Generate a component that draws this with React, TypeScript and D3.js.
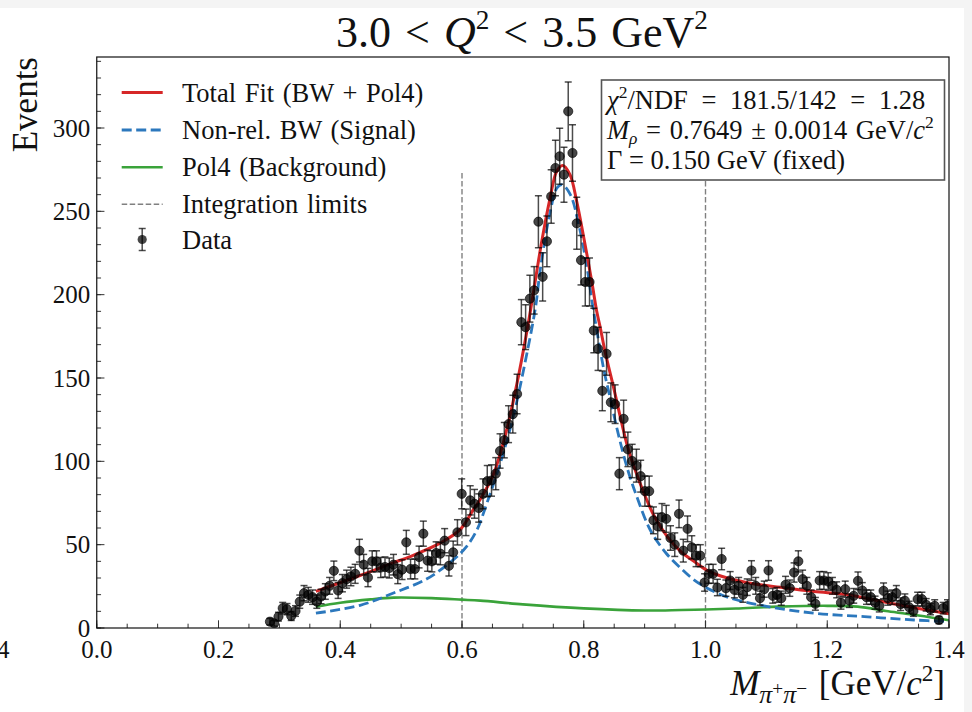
import React from 'react';
import * as d3 from 'd3';

// ---------- data ----------
const BIN_START = 0.2845;
const BIN_WIDTH = 0.007;
const counts: number[] = [
  3.8, 2.8, 6.8, 11.9, 11.3, 7.2, 10.2, 15.8, 20.9, 19.9,
  18.5, 15.8, 18.9, 21.9, 25.3, 34.3, 22.5, 26.9, 29.3, 30.9,
  32.5, 46.4, 38, 30.3, 40, 40, 36.3, 36.6, 36, 38,
  32.3, 35, 51.4, 35.4, 35.4, 42.6, 56.6, 40.4, 40, 45,
  44.6, 52.4, 37.3, 45.4, 57.4, 80.5, 63.4, 76.6, 74.5, 72,
  80.5, 88.1, 88.5, 92.6, 106.2, 112.7, 122.3, 128.3, 140.4, 183.5,
  180.5, 197.6, 202.6, 243.8, 210.7, 232, 258.9, 276, 283, 272,
  310, 285, 242.8, 220.7, 207.6, 207.6, 178.5, 167.5, 142.3, 164.5,
  135.4, 134.3, 92.6, 125.5, 107.2, 100.2, 97.4, 91.1, 82.1, 82.1,
  64.6, 61, 66.5, 65.5, 54, 50, 68.5, 46.4, 59.5, 48.4,
  43.4, 43.4, 27.3, 32.5, 32.5, 24.3, 41.4, 23.9, 28.5, 22.9,
  25.3, 19.9, 24.5, 34.5, 25.3, 17.9, 23.3, 34.5, 19.3, 19.9,
  17.9, 25.9, 23.9, 33.3, 40, 29.3, 25.3, 18.5, 14.5, 28.5,
  28.5, 27.9, 25.3, 22.9, 15.2, 23.3, 16.4, 19.3, 28.3, 22.5,
  18.5, 18.5, 15.2, 13.3, 22.3, 17.9, 18.5, 20.9, 14.3, 16.4,
  12.5, 10.2, 17.3, 17.3, 13.9, 11.3, 13.3, 4.8, 11.9, 13.3,
];

const totalFitX = [0.36, 0.4324, 0.4875, 0.5146, 0.5639, 0.5968, 0.6186, 0.6296, 0.6514, 0.6734, 0.6899, 0.7063, 0.7145, 0.7309, 0.7446, 0.7556, 0.7654, 0.7774, 0.7884, 0.7993, 0.8131, 0.8213, 0.8267, 0.8349, 0.8494, 0.8604, 0.8714, 0.8823, 0.8988, 0.9152, 0.9372, 0.959, 0.981, 1.003, 1.025, 1.0688, 1.1237, 1.1784, 1.2333, 1.2881, 1.343, 1.4];
const totalFitY = [22, 31.5, 39.2, 42.8, 50.9, 59, 71, 77, 92, 119, 146, 177.5, 195, 231.7, 257.8, 274, 277.5, 272, 256, 235.7, 208, 190, 181, 166, 143.8, 126, 109.5, 97, 81, 67.5, 54.8, 46, 40, 34.5, 31.2, 27.2, 24.4, 21.9, 20, 16, 12.2, 8.6];

const signalX = [0.36, 0.4327, 0.4875, 0.5424, 0.586, 0.6077, 0.6247, 0.641, 0.663, 0.685, 0.704, 0.7206, 0.7288, 0.745, 0.756, 0.7645, 0.778, 0.792, 0.8056, 0.814, 0.833, 0.844, 0.855, 0.8714, 0.888, 0.9097, 0.935, 0.959, 0.981, 1.003, 1.041, 1.096, 1.178, 1.261, 1.343, 1.4];
const signalY = [8.9, 13.6, 21, 29.5, 41, 49, 59, 75, 99, 128, 160, 192, 215.7, 250, 264, 266, 260, 241.7, 215.7, 195, 155, 137, 119, 96, 78, 58.5, 45, 36, 28.9, 23.9, 17.9, 13.3, 8.9, 6.8, 4.8, 3.8];

const bkgX = [0.36, 0.40, 0.45, 0.4875, 0.55, 0.60, 0.63, 0.70, 0.80, 0.90, 0.96, 1.0, 1.05, 1.12, 1.20, 1.25, 1.30, 1.35, 1.40];
const bkgY = [12.8, 15.2, 17.2, 18.2, 17.9, 17.0, 16.4, 14.2, 11.8, 10.5, 10.8, 11.1, 11.7, 12.8, 13.3, 12.8, 10.0, 7.5, 4.6];

const integrationLimits = [0.6, 1.0];
const limitTop = 273;

const xMajorTicks = [0.0, 0.2, 0.4, 0.6, 0.8, 1.0, 1.2, 1.4];
const xMinorTicks = d3.range(0, 29).map((i) => i * 0.05);
const yMajorTicks = [0, 50, 100, 150, 200, 250, 300];
const yMinorTicks = d3.range(0, 35).map((i) => i * 10);

const legendLabels = [
  'Total Fit (BW + Pol4)',
  'Non-rel. BW (Signal)',
  'Pol4 (Background)',
  'Integration limits',
  'Data',
];

// ---------- style ----------
const RED = '#d62728';
const BLUE = '#2c78bd';
const GREEN = '#3aa33a';
const FONT = '"Liberation Serif", "Times New Roman", serif';

type Piece = { t: string; i?: boolean; s?: number; k?: number };

function Rich({ x, y, pieces, size, anchor = 'start', ws = 0 }: { x: number; y: number; pieces: Piece[]; size: number; anchor?: string; ws?: number }) {
  let prev = 0;
  return (
    <text x={x} y={y} fontSize={size} fontFamily={FONT} textAnchor={anchor} fill="#111" style={{ wordSpacing: ws }}>
      {pieces.map((p, idx) => {
        const shift = (p.s ?? 0) * size;
        const dy = shift - prev;
        prev = shift;
        return (
          <tspan key={idx} dy={dy} fontStyle={p.i ? 'italic' : 'normal'} fontSize={(p.k ?? 1) * size}>
            {p.t}
          </tspan>
        );
      })}
    </text>
  );
}

export default function App() {
  const W = 972;
  const H = 712;
  const left = 96.75;
  const right = 949;
  const top = 57;
  const bottom = 628;

  const x = d3.scaleLinear().domain([0, 1.4]).range([left, right]);
  const y = d3.scaleLinear().domain([0, 342.6]).range([bottom, top]);

  const lineGen = d3
    .line<[number, number]>()
    .x((d) => x(d[0]))
    .y((d) => y(d[1]))
    .curve(d3.curveCatmullRom.alpha(0.5));

  const total = lineGen(totalFitX.map((v, i) => [v, totalFitY[i]] as [number, number])) || '';
  const signal = lineGen(signalX.map((v, i) => [v, signalY[i]] as [number, number])) || '';
  const bkg = lineGen(bkgX.map((v, i) => [v, bkgY[i]] as [number, number])) || '';

  const points = counts.map((c, i) => ({ m: BIN_START + i * BIN_WIDTH, n: c, e: Math.sqrt(c) }));

  const legendY = [92.5, 130, 167.3, 204.3, 239.5];
  const lx0 = 121.7;
  const lx1 = 162.7;

  return (
    <svg width={W} height={H} style={{ position: 'absolute', left: 0, top: 0 }} xmlns="http://www.w3.org/2000/svg">
      <rect x={0} y={0} width={W} height={H} fill="#f4f4f4" />
      <rect x={0} y={8} width={964} height={H - 8} fill="#ffffff" />
      <defs>
        <clipPath id="plotClip">
          <rect x={left} y={top} width={right - left} height={bottom - top} />
        </clipPath>
      </defs>

      {/* Title */}
      <Rich
        x={522}
        y={47}
        size={44}
        anchor="middle"
        ws={3}
        pieces={[
          { t: '3.0 < ' },
          { t: 'Q', i: true },
          { t: '2', s: -0.4, k: 0.62 },
          { t: ' < 3.5 GeV', s: 0 },
          { t: '2', s: -0.4, k: 0.62 },
        ]}
      />

      {/* curves and data */}
      <g clipPath="url(#plotClip)">
        {integrationLimits.map((v) => (
          <line key={v} x1={x(v)} x2={x(v)} y1={y(limitTop)} y2={y(0)} stroke="#808080" strokeWidth={1.4} strokeDasharray="5.5,2.5" />
        ))}
        <path d={bkg} fill="none" stroke={GREEN} strokeWidth={2.6} />
        <path d={signal} fill="none" stroke={BLUE} strokeWidth={2.8} strokeDasharray="10,4.5" />
        <path d={total} fill="none" stroke={RED} strokeWidth={3} />
        <g stroke="#000" strokeOpacity={0.7} strokeWidth={1.5}>
          {points.map((p, i) => (
            <g key={i}>
              <line x1={x(p.m)} x2={x(p.m)} y1={y(p.n - p.e)} y2={y(p.n + p.e)} />
              <line x1={x(p.m) - 3.5} x2={x(p.m) + 3.5} y1={y(p.n - p.e)} y2={y(p.n - p.e)} />
              <line x1={x(p.m) - 3.5} x2={x(p.m) + 3.5} y1={y(p.n + p.e)} y2={y(p.n + p.e)} />
            </g>
          ))}
        </g>
        <g>
          {points.map((p, i) => (
            <circle key={i} cx={x(p.m)} cy={y(p.n)} r={4.6} fill="#000" fillOpacity={0.72} stroke="#000" strokeOpacity={0.8} strokeWidth={0.8} />
          ))}
        </g>
      </g>

      {/* ticks */}
      <g stroke="#333" strokeWidth={1}>
        {xMinorTicks.map((v) => (
          <line key={'xm' + v} x1={x(v)} x2={x(v)} y1={bottom} y2={bottom - 4.3} />
        ))}
        {xMajorTicks.map((v) => (
          <line key={'xM' + v} x1={x(v)} x2={x(v)} y1={bottom} y2={bottom - 7.7} />
        ))}
        {yMinorTicks.map((v) => (
          <line key={'ym' + v} x1={left} x2={left + 4.3} y1={y(v)} y2={y(v)} />
        ))}
        {yMajorTicks.map((v) => (
          <line key={'yM' + v} x1={left} x2={left + 7.7} y1={y(v)} y2={y(v)} />
        ))}
      </g>

      {/* frame */}
      <rect x={left} y={top} width={right - left} height={bottom - top} fill="none" stroke="#111" strokeWidth={1.2} />

      {/* tick labels */}
      <g fontFamily={FONT} fontSize={25} fill="#111">
        {xMajorTicks.map((v) => (
          <text key={'xl' + v} x={x(v)} y={658} textAnchor="middle">
            {d3.format('.1f')(v)}
          </text>
        ))}
        {yMajorTicks.map((v) => (
          <text key={'yl' + v} x={left - 6.5} y={y(v) + 8.5} textAnchor="end">
            {v}
          </text>
        ))}
        <text x={9.5} y={658} textAnchor="end">1.4</text>
      </g>

      {/* axis labels */}
      <text transform="translate(37,57) rotate(-90)" textAnchor="end" fontFamily={FONT} fontSize={35} fill="#111">
        Events
      </text>
      <Rich
        x={945}
        y={695}
        size={35}
        anchor="end"
        ws={3}
        pieces={[
          { t: 'M', i: true },
          { t: 'π', i: true, s: 0.24, k: 0.74 },
          { t: '+', s: 0.0, k: 0.55 },
          { t: 'π', i: true, s: 0.24, k: 0.74 },
          { t: '−', s: 0.0, k: 0.55 },
          { t: ' [GeV/', s: 0 },
          { t: 'c', i: true },
          { t: '2', s: -0.4, k: 0.66 },
          { t: ']', s: 0 },
        ]}
      />

      {/* legend */}
      <g>
        <line x1={lx0} x2={lx1} y1={legendY[0]} y2={legendY[0]} stroke={RED} strokeWidth={3} />
        <line x1={lx0} x2={lx1} y1={legendY[1]} y2={legendY[1]} stroke={BLUE} strokeWidth={2.8} strokeDasharray="10,4.5" />
        <line x1={lx0} x2={lx1} y1={legendY[2]} y2={legendY[2]} stroke={GREEN} strokeWidth={2.6} />
        <line x1={lx0} x2={lx1} y1={legendY[3]} y2={legendY[3]} stroke="#808080" strokeWidth={1.4} strokeDasharray="5.5,2.5" />
        <g stroke="#000" strokeOpacity={0.7} strokeWidth={1.5}>
          <line x1={142.2} x2={142.2} y1={legendY[4] - 11} y2={legendY[4] + 11} />
          <line x1={138.7} x2={145.7} y1={legendY[4] - 11} y2={legendY[4] - 11} />
          <line x1={138.7} x2={145.7} y1={legendY[4] + 11} y2={legendY[4] + 11} />
        </g>
        <circle cx={142.2} cy={legendY[4]} r={4.6} fill="#000" fillOpacity={0.72} />
        <g fontFamily={FONT} fontSize={26.5} fill="#111" style={{ wordSpacing: 2 }}>
          {legendLabels.map((l, i) => (
            <text key={l} x={182} y={legendY[i] + 9}>
              {l}
            </text>
          ))}
        </g>
      </g>

      {/* info box */}
      <rect x={601.5} y={80} width={343} height={100} fill="#fff" stroke="#555" strokeWidth={1.6} />
      <Rich
        x={607}
        y={108.5}
        size={26.5}
        ws={7}
        pieces={[
          { t: 'χ', i: true },
          { t: '2', s: -0.4, k: 0.66 },
          { t: '/NDF = 181.5/142 = 1.28', s: 0 },
        ]}
      />
      <Rich
        x={607}
        y={139}
        size={26.5}
        ws={2}
        pieces={[
          { t: 'M', i: true },
          { t: 'ρ', i: true, s: 0.17, k: 0.66 },
          { t: ' = 0.7649 ± 0.0014 GeV/', s: 0 },
          { t: 'c', i: true },
          { t: '2', s: -0.4, k: 0.66 },
        ]}
      />
      <Rich x={607} y={169} size={26.5} pieces={[{ t: 'Γ = 0.150 GeV (fixed)' }]} />
    </svg>
  );
}
